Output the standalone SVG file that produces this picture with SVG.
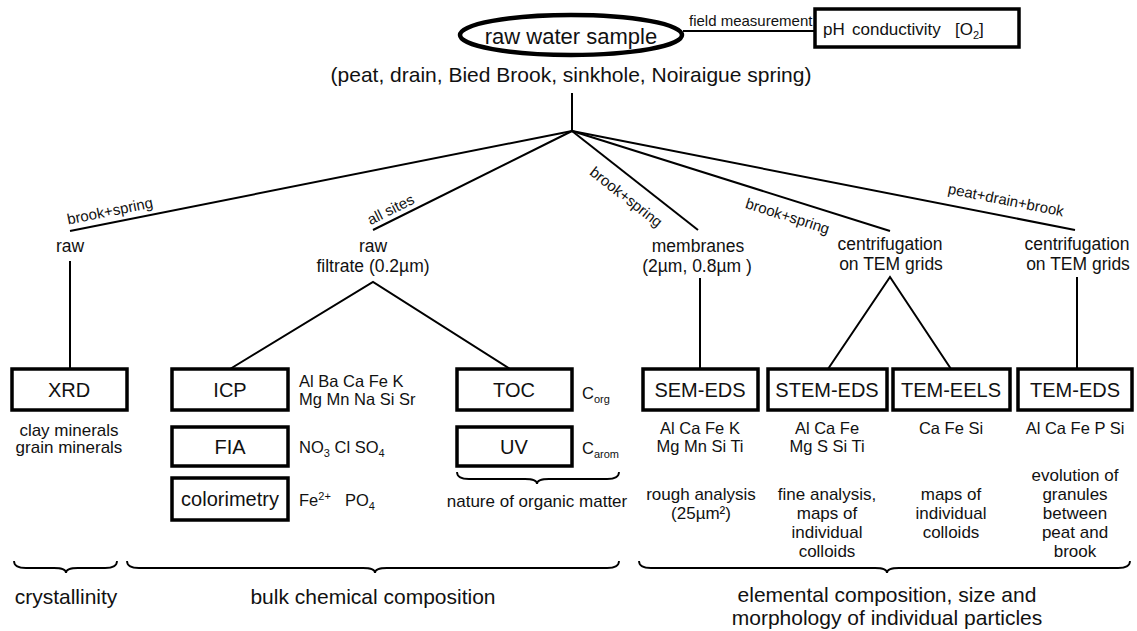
<svg xmlns="http://www.w3.org/2000/svg" width="1137" height="631" viewBox="0 0 1137 631">
<style>
text{font-family:"Liberation Sans",Arial,sans-serif;fill:#111}
.box{fill:#fff;stroke:#000;stroke-width:3.5}
.ln{stroke:#000;stroke-width:2;fill:none}
.br{stroke:#000;stroke-width:1.8;fill:none}
.bt{font-size:20px;text-anchor:middle}
.lv{font-size:17.5px;text-anchor:middle}
.el{font-size:16.5px}
.elc{font-size:16.5px;text-anchor:middle}
.ds{font-size:17px;text-anchor:middle}
.lb{font-size:15px;text-anchor:middle}
.bot{font-size:21px;text-anchor:middle}
.sub{font-size:11px}
</style>
<rect width="1137" height="631" fill="#fff"/>

<g id="connectors" class="ln">
<line x1="683" y1="31" x2="815" y2="31"/>
<line x1="572" y1="93" x2="572" y2="131"/>
<line x1="572" y1="131" x2="70" y2="231"/>
<line x1="572" y1="131" x2="373" y2="230"/>
<line x1="572" y1="131" x2="698" y2="230"/>
<line x1="572" y1="131" x2="890" y2="231"/>
<line x1="572" y1="131" x2="1075" y2="230"/>
<line x1="70" y1="261" x2="70" y2="369"/>
<polyline points="230,369 373,282 510,369"/>
<line x1="700" y1="278" x2="700" y2="369"/>
<polyline points="828,369 890,277 951,369"/>
<line x1="1077" y1="277" x2="1077" y2="369"/>
</g>

<g id="connector-labels">
<text font-size="15" x="689" y="26">field measurement</text>
<text class="lb" transform="translate(111,216) rotate(-11.4)">brook+spring</text>
<text class="lb" transform="translate(393,214) rotate(-26.5)">all sites</text>
<text class="lb" transform="translate(623,201) rotate(38.2)">brook+spring</text>
<text class="lb" transform="translate(786,221) rotate(17.6)">brook+spring</text>
<text class="lb" transform="translate(1005,205) rotate(11.2)">peat+drain+brook</text>
</g>

<g id="raw-water-sample">
<ellipse cx="571" cy="35" rx="111" ry="20" fill="#fff" stroke="#000" stroke-width="4.5"/>
<text x="571" y="44" font-size="22" text-anchor="middle">raw water sample</text>
</g>
<g id="field-params">
<rect class="box" x="815" y="9" width="204" height="38" stroke-width="3"/>
<text font-size="17" y="35"><tspan x="823">pH</tspan><tspan x="852">conductivity</tspan><tspan x="955">[O</tspan><tspan class="sub" dy="4">2</tspan><tspan dy="-4">]</tspan></text>
</g>
<g id="sites">
<text x="571" y="82" font-size="21" text-anchor="middle">(peat, drain, Bied Brook, sinkhole, Noiraigue spring)</text>
</g>

<g id="raw"><text class="lv" x="70" y="252">raw</text></g>
<g id="raw-filtrate"><text class="lv" x="373" y="252">raw</text><text class="lv" x="373" y="272">filtrate (0.2µm)</text></g>
<g id="membranes"><text class="lv" x="698" y="252">membranes</text><text class="lv" x="697" y="272">(2µm, 0.8µm )</text></g>
<g id="centrifugation-1"><text class="lv" x="890" y="250">centrifugation</text><text class="lv" x="891" y="270">on TEM grids</text></g>
<g id="centrifugation-2"><text class="lv" x="1077" y="250">centrifugation</text><text class="lv" x="1078" y="270">on TEM grids</text></g>

<g id="xrd">
<rect class="box" x="12" y="369" width="115" height="41"/>
<text class="bt" x="69" y="397">XRD</text>
<text class="ds" x="69" y="436">clay minerals</text>
<text class="ds" x="69" y="453">grain minerals</text>
</g>
<g id="icp">
<rect class="box" x="172" y="369" width="116" height="41"/>
<text class="bt" x="230" y="397">ICP</text>
<text class="el" x="299" y="387">Al Ba Ca Fe K</text>
<text class="el" x="299" y="405">Mg Mn Na Si Sr</text>
</g>
<g id="fia">
<rect class="box" x="172" y="427" width="116" height="39"/>
<text class="bt" x="230" y="454">FIA</text>
<text class="el" x="299" y="453">NO<tspan class="sub" dy="4">3</tspan><tspan dy="-4"> Cl SO</tspan><tspan class="sub" dy="4">4</tspan></text>
</g>
<g id="colorimetry">
<rect class="box" x="172" y="478" width="116" height="42"/>
<text class="bt" x="230" y="506">colorimetry</text>
<text class="el" x="299" y="506">Fe<tspan class="sub" dy="-6">2+</tspan><tspan dy="6" x="345">PO</tspan><tspan class="sub" dy="4">4</tspan></text>
</g>
<g id="toc">
<rect class="box" x="457" y="369" width="115" height="41"/>
<text class="bt" x="514" y="397">TOC</text>
<text class="el" x="582" y="399">C<tspan class="sub" dy="4">org</tspan></text>
</g>
<g id="uv">
<rect class="box" x="457" y="427" width="115" height="39"/>
<text class="bt" x="514" y="454">UV</text>
<text class="el" x="582" y="454">C<tspan class="sub" dy="4">arom</tspan></text>
<text class="ds" x="537" y="507">nature of organic matter</text>
</g>
<g id="sem-eds">
<rect class="box" x="643" y="369" width="115" height="41"/>
<text class="bt" x="700" y="397">SEM-EDS</text>
<text class="elc" x="700" y="434">Al Ca Fe K</text>
<text class="elc" x="700" y="452">Mg Mn Si Ti</text>
<text class="ds" x="701" y="500">rough analysis</text>
<text class="ds" x="701" y="519">(25µm²)</text>
</g>
<g id="stem-eds">
<rect class="box" x="768" y="369" width="119" height="41"/>
<text class="bt" x="827" y="397">STEM-EDS</text>
<text class="elc" x="827" y="434">Al Ca Fe</text>
<text class="elc" x="827" y="452">Mg S Si Ti</text>
<text class="ds" x="827" y="500">fine analysis,</text>
<text class="ds" x="827" y="519">maps of</text>
<text class="ds" x="827" y="538">individual</text>
<text class="ds" x="827" y="557">colloids</text>
</g>
<g id="tem-eels">
<rect class="box" x="893" y="369" width="117" height="41"/>
<text class="bt" x="951" y="397">TEM-EELS</text>
<text class="elc" x="951" y="434">Ca Fe Si</text>
<text class="ds" x="951" y="500">maps of</text>
<text class="ds" x="951" y="519">individual</text>
<text class="ds" x="951" y="538">colloids</text>
</g>
<g id="tem-eds">
<rect class="box" x="1018" y="369" width="114" height="41"/>
<text class="bt" x="1075" y="397">TEM-EDS</text>
<text class="elc" x="1075" y="434">Al Ca Fe P Si</text>
<text class="ds" x="1075" y="481">evolution of</text>
<text class="ds" x="1075" y="500">granules</text>
<text class="ds" x="1075" y="519">between</text>
<text class="ds" x="1075" y="538">peat and</text>
<text class="ds" x="1075" y="557">brook</text>
</g>

<g id="braces" class="br">
<path d="M457 472 Q457 479 469 479 L525 479 Q537 479 537 484 Q537 479 549 479 L607 479 Q619 479 619 472"/>
<path d="M14 561 Q14 568 26 568 L54 568 Q66 568 66 573 Q66 568 78 568 L105 568 Q117 568 117 561"/>
<path d="M127 561 Q127 568 139 568 L363 568 Q375 568 375 573 Q375 568 387 568 L607 568 Q619 568 619 561"/>
<path d="M639 561 Q639 568 651 568 L875 568 Q887 568 887 573 Q887 568 899 568 L1118 568 Q1130 568 1130 561"/>
</g>

<g id="categories">
<text class="bot" x="66" y="604">crystallinity</text>
<text class="bot" x="373" y="604">bulk chemical composition</text>
<text class="bot" x="887" y="602">elemental composition, size and</text>
<text class="bot" x="887" y="625">morphology of individual particles</text>
</g>
</svg>
